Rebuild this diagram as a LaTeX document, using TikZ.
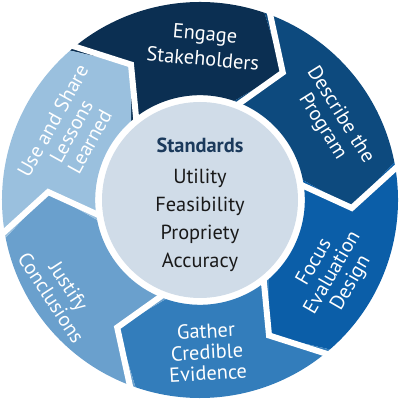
\documentclass[tikz,border=0pt]{standalone}
\usepackage{fontspec}
\setmainfont{PT Sans}
\definecolor{cEngage}{HTML}{0B2F52}
\definecolor{cDescribe}{HTML}{0D4A7E}
\definecolor{cFocus}{HTML}{0B5EA8}
\definecolor{cGather}{HTML}{337DBB}
\definecolor{cJustify}{HTML}{6AA0CD}
\definecolor{cUse}{HTML}{9AC0DE}
\definecolor{cCenter}{HTML}{D0DCE8}
\definecolor{cStd}{HTML}{1B3A5C}
\tikzset{
  ringtext/.style={text=white, align=center, font=\fontsize{14.5}{15}\selectfont, inner sep=0pt},
  gapline/.style={white, line width=0.15cm, line join=miter, miter limit=10},
  centertext/.style={align=center, font=\fontsize{14.5}{20}\selectfont, inner sep=0pt, text=black!90}
}
\newcommand{\seg}[2]{%
  \pgfmathsetmacro{\bEnd}{#1-60}%
  \fill[#2] (#1:4.95) arc[start angle=#1, end angle=\bEnd, radius=4.95]
    -- (\bEnd-14:3.8) -- (\bEnd:2.62)
    arc[start angle=\bEnd, end angle=#1, radius=2.62]
    -- (#1-14:3.8) -- cycle;}
\begin{document}
\begin{tikzpicture}
\useasboundingbox (-5,-5) rectangle (5,5);
\seg{131}{cEngage}
\seg{71}{cDescribe}
\seg{11}{cFocus}
\seg{-49}{cGather}
\seg{-109}{cJustify}
\seg{-169}{cUse}
\foreach \a in {131,71,11,-49,-109,-169}{
  \draw[gapline] (\a:5.2) -- (\a-14:3.8) -- (\a:2.4);
}
\node[circle, fill=cCenter, minimum size=4.9cm, inner sep=0pt] (ctr) at (0,0) {};
\node[centertext] (std) at (0,-0.12) {{\bfseries\color{cStd}Standards}\\[2pt]Utility\\Feasibility\\Propriety\\Accuracy};
\node[ringtext, font=\fontsize{14.5}{18}\selectfont, rotate=-5] (engage) at (0.1,3.85) {Engage\\Stakeholders};
\node[ringtext, rotate=-58] (describe) at (3.28,1.98) {Describe the\\Program};
\node[ringtext, rotate=60] (focus) at (3.325,-1.825) {Focus\\Evaluation\\Design};
\node[ringtext, rotate=3] (gather) at (0.175,-3.8) {Gather\\Credible\\Evidence};
\node[ringtext, rotate=-57] (justify) at (-3.5,-2.3) {Justify\\Conclusions};
\node[ringtext, rotate=61] (use) at (-3.22,1.72) {Use and Share\\Lessons\\Learned};
\end{tikzpicture}
\end{document}
